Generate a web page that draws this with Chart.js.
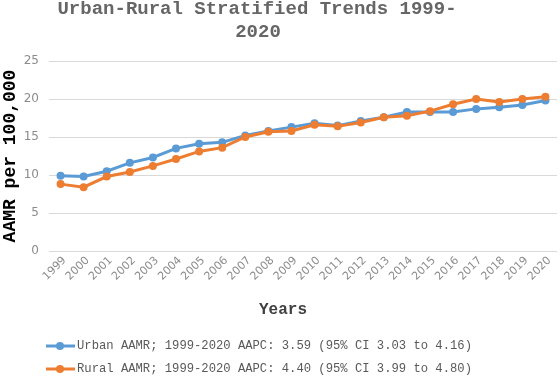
<!DOCTYPE html>
<html>
<head>
<meta charset="utf-8">
<title>Urban-Rural Stratified Trends 1999-2020</title>
<script src="https://cdn.jsdelivr.net/npm/chart.js@4"></script>
<style>
  body { margin: 0; background: #fff; }
  #wrap { width: 560px; height: 376px; }
</style>
</head>
<body>
<div id="wrap"><canvas id="chart" width="560" height="376"></canvas></div>
<script>
// Datos
const years = ['1999', '2000', '2001', '2002', '2003', '2004', '2005', '2006', '2007', '2008', '2009',
  '2010', '2011', '2012', '2013', '2014', '2015', '2016', '2017', '2018', '2019', '2020'];
const urbanAAMR = [9.9, 9.8, 10.5, 11.6, 12.3, 13.5, 14.1, 14.3, 15.2, 15.8, 16.3,
  16.8, 16.5, 17.1, 17.6, 18.3, 18.3, 18.3, 18.7, 18.9, 19.2, 19.8];
const ruralAAMR = [8.8, 8.4, 9.8, 10.4, 11.2, 12.1, 13.1, 13.6, 15.0, 15.7, 15.8,
  16.6, 16.4, 16.9, 17.6, 17.8, 18.4, 19.3, 20.0, 19.6, 20.0, 20.3];
const seriesLabels = [
  'Urban AAMR; 1999-2020 AAPC: 3.59 (95% CI 3.03 to 4.16)',
  'Rural AAMR; 1999-2020 AAPC: 4.40 (95% CI 3.99 to 4.80)'
];
const titleLines = ['Urban-Rural Stratified Trends 1999-', '2020'];
const yTicks = [0, 5, 10, 15, 20, 25];

const BLUE = '#5B9BD5';
const ORANGE = '#ED7D31';
const MONO = '"Liberation Mono", "Courier New", monospace';

// Título, título del eje X y leyenda dibujados a mano
const decorPlugin = {
  id: 'decor',
  afterDraw(chart) {
    const ctx = chart.ctx;
    ctx.save();

    // título
    ctx.fillStyle = '#666666';
    ctx.font = 'bold 19px ' + MONO;
    ctx.textAlign = 'center';
    ctx.textBaseline = 'alphabetic';
    ctx.fillText(titleLines[0], 257, 14);
    ctx.fillText(titleLines[1], 258, 37);

    // título eje X
    ctx.fillStyle = '#404040';
    ctx.font = 'bold 16px ' + MONO;
    ctx.fillText('Years', 283, 314);

    // leyenda
    const rows = [346, 369];
    chart.data.datasets.forEach((ds, i) => {
      const y = rows[i];
      ctx.strokeStyle = ds.borderColor;
      ctx.lineWidth = 3;
      ctx.beginPath();
      ctx.moveTo(46, y);
      ctx.lineTo(75, y);
      ctx.stroke();
      ctx.fillStyle = ds.borderColor;
      ctx.beginPath();
      ctx.arc(60, y, 4, 0, Math.PI * 2);
      ctx.fill();
      ctx.fillStyle = '#595959';
      ctx.font = '12.2px ' + MONO;
      ctx.textAlign = 'left';
      ctx.textBaseline = 'middle';
      ctx.fillText(ds.label, 77, y);
    });
    ctx.restore();
  }
};

new Chart(document.getElementById('chart'), {
  type: 'line',
  data: {
    labels: years,
    datasets: [
      {
        label: seriesLabels[0],
        data: urbanAAMR,
        borderColor: BLUE,
        backgroundColor: BLUE,
        borderWidth: 3,
        pointRadius: 4,
        pointBorderWidth: 0,
        tension: 0,
        order: 1
      },
      {
        label: seriesLabels[1],
        data: ruralAAMR,
        borderColor: ORANGE,
        backgroundColor: ORANGE,
        borderWidth: 3,
        pointRadius: 4,
        pointBorderWidth: 0,
        tension: 0,
        order: 0
      }
    ]
  },
  options: {
    responsive: false,
    devicePixelRatio: 1,
    animation: false,
    layout: { padding: { top: 61, right: 3, left: 0, bottom: 0 }, autoPadding: false },
    plugins: {
      legend: { display: false },
      title: { display: false },
      tooltip: { enabled: false }
    },
    scales: {
      x: {
        offset: true,
        grid: { display: false, drawTicks: false },
        border: { display: false },
        ticks: {
          minRotation: 45,
          maxRotation: 45,
          autoSkip: false,
          padding: 3,
          labelOffset: 4,
          color: '#8c8c8c',
          font: { family: '"DejaVu Sans", Verdana, sans-serif', size: 11 }
        },
        afterFit(scale) { scale.height = 125; }
      },
      y: {
        min: 0,
        max: 25,
        afterBuildTicks(scale) { scale.ticks = yTicks.map(v => ({ value: v })); },
        grid: { color: '#d9d9d9', lineWidth: 1, drawTicks: false },
        border: { display: false },
        ticks: {
          padding: 10,
          color: '#8c8c8c',
          font: { family: '"DejaVu Sans", Verdana, sans-serif', size: 12 }
        },
        title: {
          display: true,
          text: 'AAMR per 100,000',
          color: '#000',
          font: { family: MONO, size: 18, weight: 'bold' },
          padding: { top: 0, bottom: 0 }
        },
        afterFit(scale) { scale.width = 49; }
      }
    }
  },
  plugins: [decorPlugin]
});
</script>
</body>
</html>
